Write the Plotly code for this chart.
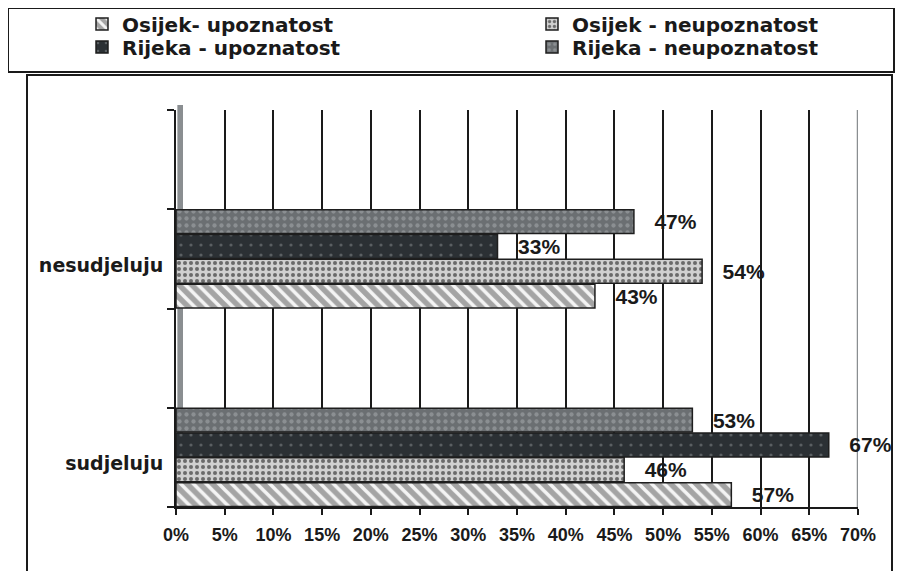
import plotly.graph_objects as go

# ---- data ----
categories = ["sudjeluju", "nesudjeluju"]
series_names = ["Osijek- upoznatost", "Osijek - neupoznatost",
                "Rijeka - upoznatost", "Rijeka - neupoznatost"]
osijek_upoznatost = [57, 43]
osijek_neupoznatost = [46, 54]
rijeka_upoznatost = [67, 33]
rijeka_neupoznatost = [53, 47]
x_tick_values = [0, 5, 10, 15, 20, 25, 30, 35, 40, 45, 50, 55, 60, 65, 70]
x_tick_labels = [f"{v}%" for v in x_tick_values]

series_values = [osijek_upoznatost, osijek_neupoznatost,
                 rijeka_upoznatost, rijeka_neupoznatost]

# ---- styles ----
styles = [
    dict(bg="#a4a4a4", shape="\\", fg="#f4f4f4", size=9, solidity=0.4),
    dict(bg="#d0d0d0", shape=".", fg="#6a6a6a", size=6, solidity=0.35),
    dict(bg="#2b3034", shape=".", fg="#5a5f62", size=10, solidity=0.08),
    dict(bg="#6b6f72", shape=".", fg="#8b8f92", size=7, solidity=0.3),
]

FONT = "Liberation Sans, Arial, sans-serif"
WIDE_FONT = "DejaVu Sans, Liberation Sans, sans-serif"

# page body has an 8px margin; lay out in page pixels and convert
OFF = 8
PAGE_W, PAGE_H = 903, 571
W, H = PAGE_W - OFF, PAGE_H - OFF
PLOT_X0, PLOT_X1, PLOT_Y0, PLOT_Y1 = 176, 858, 110, 507   # page pixels
L, R = PLOT_X0 - OFF, PAGE_W - PLOT_X1
T, B = PLOT_Y0 - OFF, PAGE_H - PLOT_Y1
PW, PH = PLOT_X1 - PLOT_X0, PLOT_Y1 - PLOT_Y0


def px_x(p):
    return (p - PLOT_X0) / PW


def px_y(p):
    return (PLOT_Y1 - p) / PH


# legend slots: (x of legend origin, row centre y) in page pixels
legend_slots = [(82, 24), (532, 24), (82, 47), (532, 47)]

cat_pos = list(range(len(categories)))
NBSP = "\u00a0"

fig = go.Figure()
legend_layout = {}
for i, (name, vals, st) in enumerate(zip(series_names, series_values, styles)):
    lid = "legend" if i == 0 else f"legend{i + 1}"
    fig.add_trace(go.Bar(
        y=cat_pos, x=vals, orientation="h", name=name,
        marker=dict(color=st["bg"], line=dict(color="#1e1e1e", width=1.5),
                    pattern=dict(shape=st["shape"], fgcolor=st["fg"], bgcolor=st["bg"],
                                 size=st["size"], solidity=st["solidity"], fillmode="replace")),
        text=[NBSP * 3 + f"{v}%" for v in vals], textposition="outside",
        textfont=dict(family=FONT, size=21, color="#1a1a1a", weight="bold"),
        constraintext="none", cliponaxis=False, legend=lid, showlegend=True,
    ))
    lx, ly = legend_slots[i]
    legend_layout[lid] = dict(
        orientation="v", xref="container", yref="container",
        x=(lx - OFF) / W, xanchor="left", y=1 - (ly - OFF) / H, yanchor="middle",
        font=dict(family=WIDE_FONT, size=20, weight="bold", color="#1a1a1a"),
        itemwidth=30, bgcolor="rgba(0,0,0,0)", borderwidth=0, visible=True)

fig.update_layout(
    width=W, height=H, autosize=False, showlegend=True,
    margin=dict(l=L, r=R, t=T, b=B, autoexpand=False),
    paper_bgcolor="white", plot_bgcolor="white",
    barmode="group", bargap=0.5, bargroupgap=0.04,
    font=dict(family=FONT, color="#1a1a1a"),
    xaxis=dict(range=[0, 70], tickvals=x_tick_values, ticktext=x_tick_labels,
               showgrid=True, gridcolor="#1a1a1a", gridwidth=1.5,
               ticks="outside", ticklen=6, tickwidth=2, tickcolor="#1a1a1a",
               showline=True, linecolor="#1a1a1a", linewidth=2, zeroline=False,
               automargin=False, ticklabelstandoff=4,
               tickfont=dict(family=FONT, size=18, weight="bold")),
    yaxis=dict(range=[-0.25, 1.75], tickvals=cat_pos, ticktext=categories,
               ticks="", showgrid=False, zeroline=False, automargin=False,
               showline=True, linecolor="#1a1a1a", linewidth=2,
               minor=dict(tickvals=[-0.25, 0.25, 0.75, 1.25, 1.75], ticks="outside",
                          ticklen=7, tickwidth=2, tickcolor="#1a1a1a"),
               ticklabelshift=6, ticklabelstandoff=7,
               tickfont=dict(family=WIDE_FONT, size=19, weight="bold")),
    shapes=[
        # legend frame
        dict(type="rect", xref="paper", yref="paper",
             x0=px_x(8), x1=px_x(894), y0=px_y(72), y1=px_y(8),
             line=dict(color="#1a1a1a", width=2), fillcolor="rgba(0,0,0,0)", layer="below"),
        # chart frame
        dict(type="rect", xref="paper", yref="paper",
             x0=px_x(27), x1=px_x(892), y0=px_y(590), y1=px_y(75),
             line=dict(color="#1a1a1a", width=2), fillcolor="rgba(0,0,0,0)", layer="below"),
        # 3D left wall
        dict(type="rect", xref="paper", yref="paper",
             x0=0.002, x1=px_x(183), y0=px_y(500), y1=px_y(105),
             line=dict(width=0), fillcolor="#8a8e91", layer="below"),
        # back wall right edge (gray)
        dict(type="line", xref="x", yref="paper", x0=70, x1=70, y0=0.0, y1=1.0,
             line=dict(color="#8a8e91", width=2.5), layer="below"),
    ],
)
fig.update_layout(**legend_layout)

fig.write_html("out.html")
